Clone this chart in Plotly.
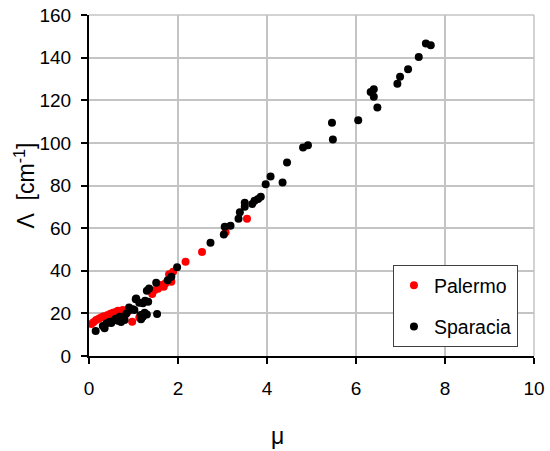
import plotly.graph_objects as go

# Palermo (red)
palermo_mu = [0.05, 0.10, 0.16, 0.22, 0.27, 0.33, 0.42, 0.48, 0.54, 0.60, 0.65, 0.70, 0.76, 0.82, 0.87,
              0.97, 1.13, 1.17, 1.42, 1.47, 1.55, 1.62, 1.68, 1.72, 1.80, 1.85, 1.89, 2.17, 2.54, 3.07, 3.55]
palermo_lam = [15.0, 15.8, 16.9, 17.5, 18.1, 18.6, 19.2, 19.8, 20.3, 20.6, 21.2, 20.5, 21.6, 19.5, 20.8,
               16.1, 18.1, 17.7, 29.1, 30.9, 31.5, 33.3, 32.5, 34.1, 38.4, 34.8, 39.5, 44.2, 48.8, 58.1, 64.4]

# Sparacia (black)
sparacia_mu = [0.15, 0.35, 0.31, 0.39, 0.46, 0.57, 0.69, 0.80, 0.76, 0.84, 0.90, 0.99, 0.91, 1.02, 1.06,
               1.05, 1.13, 1.21, 1.26, 1.33, 1.30, 1.35, 1.51, 1.77, 1.85, 1.98, 1.17, 1.21, 1.30, 1.25,
               1.16, 1.53, 0.60, 0.50, 0.65, 0.72,
               2.73, 3.03, 3.05, 3.18, 3.36, 3.39, 3.50, 3.50, 3.67, 3.72, 3.80, 3.86, 3.97, 4.08, 4.35,
               4.45, 4.81, 4.92, 5.46, 5.48, 6.05, 6.33, 6.40, 6.40, 6.48, 6.93, 6.99, 7.17, 7.41, 7.57, 7.68]
sparacia_lam = [11.7, 13.0, 14.1, 15.3, 16.1, 16.9, 18.4, 16.9, 17.7, 20.0, 22.8, 21.9, 21.6, 21.6, 27.0,
                26.6, 25.0, 24.7, 25.9, 25.5, 30.6, 31.7, 34.4, 35.6, 37.2, 41.6, 17.2, 18.4, 19.5, 20.3,
                19.2, 19.7, 17.5, 15.5, 16.5, 15.9,
                53.1, 57.0, 60.6, 61.1, 64.4, 67.4, 70.0, 71.9, 71.3, 72.8, 73.7, 74.7, 80.6, 84.2, 81.4,
                90.8, 97.8, 98.9, 109.4, 101.6, 110.6, 123.9, 125.2, 121.6, 116.6, 127.8, 131.0, 134.5, 140.3, 146.6, 145.8]

x_ticks = [0, 2, 4, 6, 8, 10]
y_ticks = [0, 20, 40, 60, 80, 100, 120, 140, 160]

FONT = "Liberation Sans, Arial, sans-serif"

fig = go.Figure()
fig.add_trace(go.Scatter(x=palermo_mu, y=palermo_lam, mode="markers", name="Palermo",
                         legendgroup="a",
                         marker=dict(color="#ff0000", size=8, line=dict(width=0))))
fig.add_trace(go.Scatter(x=sparacia_mu, y=sparacia_lam, mode="markers", name="Sparacia",
                         legendgroup="b",
                         marker=dict(color="#000000", size=8, line=dict(width=0))))

grid_c = "#c4c4c4"
fig.update_layout(
    width=550, height=451,
    margin=dict(l=89, r=16, t=15, b=95, autoexpand=False),
    paper_bgcolor="white", plot_bgcolor="white",
    font=dict(family=FONT, color="black", size=17),
    showlegend=True,
    legend=dict(x=0.683, y=0.267, xanchor="left", yanchor="top",
                bgcolor="white", bordercolor="#404040", borderwidth=1,
                font=dict(size=19.5, family=FONT), tracegroupgap=13,
                itemsizing="trace", itemwidth=30),
    xaxis=dict(range=[0, 10], tickvals=x_ticks, ticktext=[str(v) for v in x_ticks],
               showgrid=True, gridcolor=grid_c, gridwidth=1.5,
               showline=True, linecolor="black", linewidth=2,
               ticks="outside", ticklen=6, tickwidth=2, tickcolor="black",
               ticklabelstandoff=8, zeroline=False,
               tickfont=dict(size=19)),
    yaxis=dict(range=[0, 160], tickvals=y_ticks, ticktext=[str(v) for v in y_ticks],
               showgrid=True, gridcolor=grid_c, gridwidth=1.5,
               showline=True, linecolor="black", linewidth=2,
               ticks="outside", ticklen=6, tickwidth=2, tickcolor="black",
               ticklabelstandoff=6, zeroline=False,
               tickfont=dict(size=19)),
)

# top and right gray borders
fig.add_shape(type="line", xref="paper", yref="paper", x0=0, x1=1, y0=1, y1=1,
              line=dict(color=grid_c, width=1.5))
fig.add_shape(type="line", xref="paper", yref="paper", x0=1, x1=1, y0=0, y1=1,
              line=dict(color=grid_c, width=1.5))

# axis titles
fig.add_annotation(text="μ", xref="paper", yref="paper", x=0.424, y=-0.235,
                   xanchor="center", yanchor="middle", showarrow=False,
                   font=dict(size=23, family=FONT))
fig.add_annotation(text="Λ&nbsp; [cm<sup>-1</sup>]", xref="paper", yref="paper", x=-0.146, y=0.5,
                   xanchor="center", yanchor="middle", showarrow=False, textangle=-90,
                   font=dict(size=23, family=FONT))

fig.write_html("out.html", config={"displayModeBar": False},
               post_script="document.body.style.margin='0';document.body.style.padding='0';")
